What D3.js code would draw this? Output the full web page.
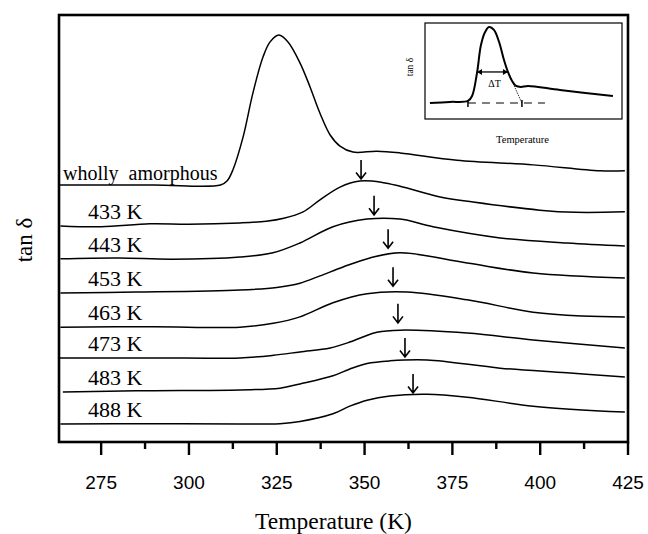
<!doctype html>
<html>
<head>
<meta charset="utf-8">
<title>tan delta vs temperature</title>
<script src="https://d3js.org/d3.v7.min.js"></script>
<style>
  body { margin: 0; background: #fff; }
  svg { display: block; }
</style>
</head>
<body>
<svg id="chart"></svg>
<script>
// curve labels, top to bottom
var labels = ["wholly  amorphous", "433 K", "443 K", "453 K", "463 K", "473 K", "483 K", "488 K"];

// [temperature (K), tan delta (a.u., curves stacked)]
var amorphous = [[263.2, 6.02], [290, 6.02], [309.0, 6.02], [310.9, 6.12], [312.5, 6.37], [315.4, 7.14],
  [318.2, 8.17], [321.1, 9.02], [323.1, 9.37], [325.6, 9.53], [328.2, 9.37], [331.6, 8.88],
  [334.5, 8.31], [337.3, 7.70], [340.2, 7.19], [343.0, 6.93], [346.7, 6.79], [353.5, 6.81],
  [360.1, 6.77], [376.3, 6.60], [398.0, 6.49], [417.0, 6.35], [424.1, 6.35]];
var k433 = [[263.4, 5.06], [275, 5.04], [288.9, 5.11], [300, 5.10], [314.5, 5.13], [322, 5.17],
  [327, 5.24], [332.5, 5.39], [337.3, 5.67], [343.0, 5.97], [348.7, 6.11], [355, 6.08], [360.1, 5.99],
  [371.5, 5.74], [380.9, 5.62], [399.9, 5.43], [410, 5.38], [424.1, 5.39]];
var k443 = [[263.4, 4.29], [280, 4.31], [295, 4.28], [314.5, 4.33], [323.9, 4.43],
  [331.6, 4.66], [341.0, 5.04], [350.7, 5.22], [360.1, 5.22], [369.5, 5.04],
  [388.6, 4.78], [407.6, 4.66], [424.1, 4.59]];
var k453 = [[263.4, 3.49], [285, 3.51], [314.5, 3.56], [325, 3.62], [331.6, 3.72], [337.3, 3.89], [343.9, 4.10],
  [351.5, 4.31], [360.1, 4.43], [379.2, 4.19], [398.0, 3.96], [424.1, 3.84]];
var k463 = [[263.4, 2.69], [290, 2.70], [314.5, 2.69], [324, 2.78], [331.6, 2.93], [341.0, 3.26], [350.7, 3.47],
  [362.1, 3.51], [379.2, 3.33], [398.0, 3.04], [412, 2.95], [424.1, 2.93]];
var k473 = [[263.0, 1.97], [290, 1.97], [314.5, 1.97], [324, 2.03], [331.6, 2.11], [340.2, 2.20], [345.8, 2.34],
  [349.5, 2.46], [353.5, 2.57], [360.1, 2.62], [379.2, 2.55], [398.0, 2.39], [424.1, 2.20]];
var k483 = [[264.1, 1.17], [285, 1.20], [314.5, 1.22], [325.9, 1.26], [331.6, 1.36], [341.0, 1.55],
  [345.8, 1.71], [350.7, 1.84], [357.2, 1.90], [367.8, 1.92], [388.6, 1.73], [407.6, 1.62], [424.1, 1.52]];
var k488 = [[263.4, 0.42], [290, 0.43], [314.5, 0.42], [325.9, 0.43], [331.6, 0.48], [341.0, 0.66],
  [345.8, 0.84], [350.7, 0.98], [357.2, 1.08], [367.8, 1.12], [379.2, 1.05], [398.0, 0.84], [424.1, 0.70]];
var series = [amorphous, k433, k443, k453, k463, k473, k483, k488];

// arrows marking the peak of each annealed curve
var arrowT = [349.0, 352.7, 356.7, 358.1, 359.5, 361.5, 363.8];
var arrowTip = [6.16, 5.32, 4.54, 3.65, 2.79, 1.99, 1.15];

var majorTicks = [275, 300, 325, 350, 375, 400, 425];
var minorTicks = [287.5, 312.5, 337.5, 362.5, 387.5, 412.5];

// inset sketch (arbitrary units)
var insetCurve = [[2.5, 8.3], [12.7, 8.9], [21.8, 9.4], [23.9, 12.0], [26.4, 24.0], [28.4, 38.5],
  [30.5, 45.3], [32.5, 47.9], [35.0, 46.4], [37.6, 40.1], [40.1, 30.7], [42.1, 24.5],
  [44.2, 19.8], [46.2, 17.2], [48.7, 16.7], [52.3, 17.2], [68.5, 15.1], [95.4, 12.0]];
var insetBase = [[21.8, 8.3], [60.9, 8.3]];
var insetTangent = [[42.1, 24.5], [49.2, 8.3]];
var insetMarks = [21.8, 49.2];
var insetWidth = [26.4, 42.1, 24.5];

var W = 648, H = 534;
var svg = d3.select("#chart").attr("width", W).attr("height", H);

var x = d3.scaleLinear().domain([263, 425]).range([59, 628]);
var y = d3.scaleLinear().domain([0, 10]).range([442, 15]);

var line = d3.line()
  .x(function(d) { return x(d[0]); })
  .y(function(d) { return y(d[1]); })
  .curve(d3.curveCatmullRom.alpha(0.5));

svg.selectAll("path.curve")
  .data(series)
  .enter().append("path")
  .attr("class", "curve")
  .attr("d", line)
  .attr("fill", "none")
  .attr("stroke", "#000")
  .attr("stroke-width", 1.5);

// labels sit just above the start of each curve
svg.selectAll("text.lab")
  .data(labels)
  .enter().append("text")
  .attr("class", "lab")
  .attr("x", function(d, i) { return i == 0 ? x(263) + 4 : x(263) + 29; })
  .attr("y", function(d, i) { return y(series[i][0][1]) - (i == 0 ? 5 : 7); })
  .attr("font-family", "Liberation Serif, Times New Roman, serif")
  .attr("font-size", function(d, i) { return i == 0 ? 20 : 22; })
  .attr("xml:space", "preserve")
  .style("white-space", "pre")
  .text(function(d) { return d; });

// peak arrows
var arrowLen = 19;
arrowT.forEach(function(t, i) {
  var ax = x(t), ay = y(arrowTip[i]);
  svg.append("path")
    .attr("d", "M" + ax + "," + (ay - arrowLen) + "V" + ay +
      "M" + (ax - 5) + "," + (ay - 6.5) + "L" + ax + "," + ay + "L" + (ax + 5) + "," + (ay - 6.5))
    .attr("fill", "none")
    .attr("stroke", "#000")
    .attr("stroke-width", 1.6);
});

// frame
svg.append("rect")
  .attr("x", x(263)).attr("y", y(10))
  .attr("width", x(425) - x(263)).attr("height", y(0) - y(10))
  .attr("fill", "none").attr("stroke", "#000").attr("stroke-width", 2.6);

// ticks
svg.selectAll("line.major")
  .data(majorTicks)
  .enter().append("line")
  .attr("x1", d => x(d)).attr("x2", d => x(d))
  .attr("y1", y(0)).attr("y2", y(0) + 13)
  .attr("stroke", "#000").attr("stroke-width", 2.4);
svg.selectAll("line.minor")
  .data(minorTicks)
  .enter().append("line")
  .attr("x1", d => x(d)).attr("x2", d => x(d))
  .attr("y1", y(0)).attr("y2", y(0) + 7)
  .attr("stroke", "#000").attr("stroke-width", 2.4);
svg.selectAll("text.tick")
  .data(majorTicks)
  .enter().append("text")
  .attr("x", d => x(d))
  .attr("y", y(0) + 47)
  .attr("text-anchor", "middle")
  .attr("font-family", "Liberation Sans, Arial, sans-serif")
  .attr("font-size", 19)
  .text(d => d);

svg.append("text")
  .attr("x", (x(263) + x(425)) / 2 - 10)
  .attr("y", 529)
  .attr("text-anchor", "middle")
  .attr("font-family", "Liberation Serif, Times New Roman, serif")
  .attr("font-size", 23.5)
  .text("Temperature (K)");

svg.append("text")
  .attr("transform", "translate(32,240) rotate(-90)")
  .attr("text-anchor", "middle")
  .attr("font-family", "Liberation Serif, Times New Roman, serif")
  .attr("font-size", 23)
  .text("tan δ");

// ---- inset ----
var ix = d3.scaleLinear().domain([0, 100]).range([425, 622]);
var iy = d3.scaleLinear().domain([0, 50]).range([119, 23]);
var g = svg.append("g");
g.append("rect")
  .attr("x", ix(0)).attr("y", iy(50))
  .attr("width", ix(100) - ix(0)).attr("height", iy(0) - iy(50))
  .attr("fill", "#fff").attr("stroke", "#000").attr("stroke-width", 1.2);

var iline = d3.line().x(d => ix(d[0])).y(d => iy(d[1]));
g.append("path")
  .attr("d", iline.curve(d3.curveCatmullRom.alpha(0.5))(insetCurve))
  .attr("fill", "none").attr("stroke", "#000").attr("stroke-width", 2);
g.append("path")
  .attr("d", d3.line().x(d => ix(d[0])).y(d => iy(d[1]))(insetBase))
  .attr("fill", "none").attr("stroke", "#000").attr("stroke-width", 1.1)
  .attr("stroke-dasharray", "8,6");
g.append("path")
  .attr("d", d3.line().x(d => ix(d[0])).y(d => iy(d[1]))(insetTangent))
  .attr("fill", "none").attr("stroke", "#000").attr("stroke-width", 0.8)
  .attr("stroke-dasharray", "1.5,1");
g.selectAll("line.imark")
  .data(insetMarks)
  .enter().append("line")
  .attr("x1", d => ix(d)).attr("x2", d => ix(d))
  .attr("y1", iy(8.3) - 3).attr("y2", iy(8.3) + 4)
  .attr("stroke", "#000").attr("stroke-width", 1.5);

// double arrow for the width
var ax1 = ix(insetWidth[0]), ax2 = ix(insetWidth[1]), ayy = iy(insetWidth[2]);
g.append("path")
  .attr("d", "M" + ax1 + "," + ayy + "H" + ax2)
  .attr("stroke", "#000").attr("stroke-width", 1.3);
g.append("path")
  .attr("d", "M" + ax1 + "," + ayy + "l5,-3l0,6z M" + ax2 + "," + ayy + "l-5,-3l0,6z")
  .attr("fill", "#000");
g.append("text")
  .attr("x", ix(35.3)).attr("y", iy(16.5))
  .attr("text-anchor", "middle")
  .attr("font-family", "Liberation Serif, Times New Roman, serif")
  .attr("font-size", 10)
  .text("ΔT");

svg.append("text")
  .attr("transform", "translate(413,67) rotate(-90)")
  .attr("text-anchor", "middle")
  .attr("font-family", "Liberation Serif, Times New Roman, serif")
  .attr("font-size", 9.5)
  .text("tan δ");
svg.append("text")
  .attr("x", (ix(0) + ix(100)) / 2 - 1)
  .attr("y", 143)
  .attr("text-anchor", "middle")
  .attr("font-family", "Liberation Serif, Times New Roman, serif")
  .attr("font-size", 10.5)
  .text("Temperature");
</script>
</body>
</html>
